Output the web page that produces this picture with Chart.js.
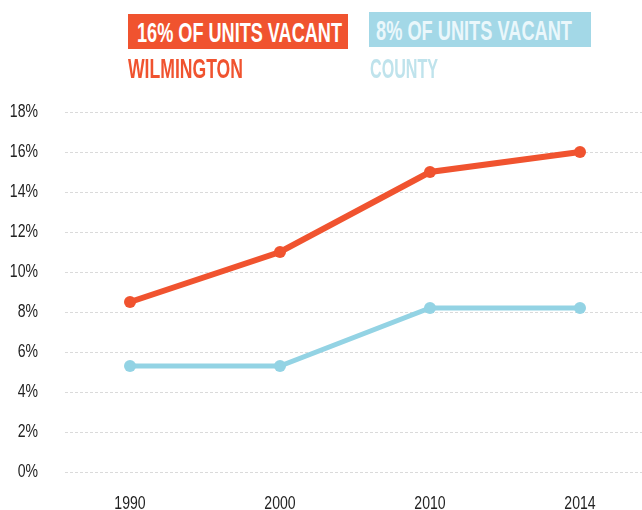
<!DOCTYPE html>
<html>
<head>
<meta charset="utf-8">
<script src="https://cdn.jsdelivr.net/npm/chart.js@4/dist/chart.umd.min.js"></script>
<style>
  html, body { margin: 0; padding: 0; background: #fff; }
  #wrap { position: relative; width: 642px; height: 510px; overflow: hidden; }
  canvas { position: absolute; left: 0; top: 0; }
  .box { position: absolute; height: 35px; }
  .fit { position: absolute; white-space: nowrap; font-family: "Liberation Sans", Arial, sans-serif; font-weight: bold; transform-origin: 0 0; line-height: 1; }
</style>
</head>
<body>
<div id="wrap">
  <canvas id="c" width="642" height="510"></canvas>
  <div class="box" style="left:128px;top:14px;width:220px;background:#F0532F;"></div>
  <div class="fit" data-w="205" style="left:137px;top:19px;font-size:28px;color:#fff;">16% OF UNITS VACANT</div>
  <div class="fit" data-w="115" style="left:128px;top:55px;font-size:28px;color:#F0532F;">WILMINGTON</div>
  <div class="box" style="left:369px;top:12px;width:222px;background:#A3D8E7;"></div>
  <div class="fit" data-w="196" style="left:376px;top:17px;font-size:28px;color:#EAF7FB;">8% OF UNITS VACANT</div>
  <div class="fit" data-w="68" style="left:370px;top:55px;font-size:28px;color:#BFE3EC;">COUNTY</div>
</div>
<script>
const years = ['1990', '2000', '2010', '2014'];
const wilmington = [8.5, 11, 15, 16];
const county = [5.3, 5.3, 8.2, 8.2];
const yTickStep = 2;
const yMax = 18;

document.querySelectorAll('.fit').forEach(el => {
  const w = el.getBoundingClientRect().width;
  const target = +el.dataset.w;
  el.style.transform = 'scaleX(' + (target / w) + ')';
});

// condense canvas text horizontally around its anchor point (text stays real text)
const canvas = document.getElementById('c');
const ctx2d = canvas.getContext('2d');
const origFill = ctx2d.fillText.bind(ctx2d);
ctx2d.fillText = function (t, x, y, mw) {
  this.save();
  this.translate(x, y);
  this.scale(0.74, 1);
  if (mw !== undefined) origFill(t, 0, 0, mw); else origFill(t, 0, 0);
  this.restore();
};

const axisFont = { family: '"Liberation Sans", Arial, sans-serif', size: 19 };

new Chart(canvas, {
  type: 'line',
  data: {
    datasets: [
      {
        label: 'Wilmington',
        data: wilmington.map((v, i) => ({ x: i, y: v })),
        borderColor: '#F0532F',
        backgroundColor: '#F0532F',
        borderWidth: 6,
        pointRadius: 6,
        pointBorderWidth: 0,
        tension: 0
      },
      {
        label: 'County',
        data: county.map((v, i) => ({ x: i, y: v })),
        borderColor: '#93D3E4',
        backgroundColor: '#93D3E4',
        borderWidth: 5,
        pointRadius: 6,
        pointBorderWidth: 0,
        tension: 0
      }
    ]
  },
  options: {
    responsive: false,
    animation: false,
    events: [],
    layout: { autoPadding: false, padding: { top: 112, right: 0, bottom: 0, left: 0 } },
    plugins: { legend: { display: false }, tooltip: { enabled: false } },
    scales: {
      x: {
        type: 'linear',
        min: -0.4333,
        max: 3.4133,
        afterBuildTicks: s => { s.ticks = years.map((_, i) => ({ value: i })); },
        afterFit: s => { s.height = 38; s.paddingLeft = 0; s.paddingRight = 0; },
        grid: { display: false },
        border: { display: false },
        ticks: {
          padding: 12,
          color: '#222',
          font: axisFont,
          callback: v => years[v]
        }
      },
      y: {
        min: 0,
        max: yMax,
        afterFit: s => { s.width = 65; s.paddingTop = 0; s.paddingBottom = 0; },
        grid: { color: '#dadada', lineWidth: 1, drawTicks: false },
        border: { display: false, dash: [3, 2] },
        ticks: {
          stepSize: yTickStep,
          padding: 27,
          color: '#222',
          font: axisFont,
          callback: v => v + '%'
        }
      }
    }
  }
});
</script>
</body>
</html>
